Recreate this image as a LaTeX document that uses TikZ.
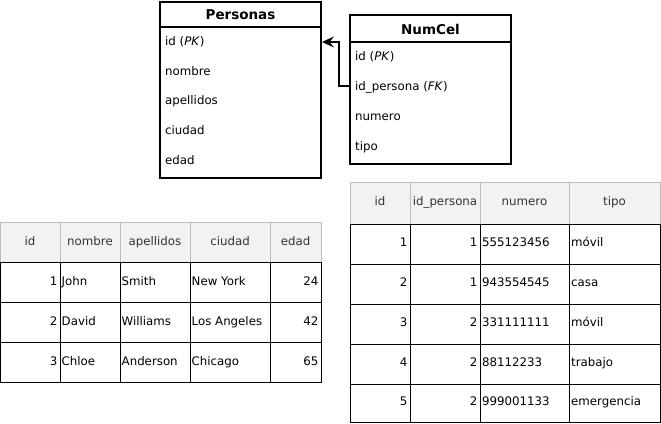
\documentclass[tikz,border=0pt]{standalone}
\usepackage{fontspec}
\setmainfont{DejaVu Sans}
\usetikzlibrary{arrows.meta}
\definecolor{hdrgray}{HTML}{F2F2F2}
\definecolor{hdrline}{HTML}{BDBDBD}
\definecolor{hdrtext}{HTML}{333333}
\tikzset{
  entity/.style={draw=black, line width=2pt, fill=white, inner sep=0pt},
  ttl/.style={inner sep=0pt, font=\fontsize{13.5}{15}\selectfont\bfseries},
  txt/.style={inner sep=0pt, text height=8.7pt, text depth=2.5pt, font=\fontsize{11.8}{13}\selectfont},
  field/.style={txt, anchor=west},
  hcell/.style={txt, text=hdrtext},
  lcell/.style={txt, anchor=west},
  rcell/.style={txt, anchor=east},
  grid/.style={draw=black, line width=0.9pt},
  hgrid/.style={draw=hdrline, line width=0.9pt},
  fk/.style={line width=2pt, -{Stealth[length=12pt, width=11pt, inset=4.5pt]}}
}
\begin{document}
\begin{tikzpicture}[x=1pt, y=-1pt]
		\useasboundingbox (0,0) rectangle (661,423);
		% entidad Personas
		\node [entity, minimum width=161pt, minimum height=176pt] (personas) at (240.5,90) {};
		\draw [line width=1.5pt] (160,27) -- (321,27);
		\node [ttl] (personas-t) at (240.5,15) {Personas};
		\node [field] (pers-id) at (165,42) {id (\textit{PK})};
		\node [field] (pers-nom) at (165,72) {nombre};
		\node [field] (pers-ape) at (165,101) {apellidos};
		\node [field] (pers-ciu) at (165,131) {ciudad};
		\node [field] (pers-eda) at (165,161) {edad};
		% entidad NumCel
		\node [entity, minimum width=161pt, minimum height=149pt] (numcel) at (430.5,89.5) {};
		\draw [line width=1.5pt] (350,42) -- (511,42);
		\node [ttl] (numcel-t) at (430.5,29) {NumCel};
		\node [field] (nc-id) at (355,57) {id (\textit{PK})};
		\node [field] (nc-idp) at (355,87) {id\_persona (\textit{FK})};
		\node [field] (nc-num) at (355,117) {numero};
		\node [field] (nc-tipo) at (355,147) {tipo};
		% relacion
		\draw [fk] (numcel.west |- 0,86) -- ++(-10,0) |- (personas.east |- 0,42);
		% tabla Personas
		\fill [hdrgray] (0.5,222) rectangle (321,262);
		\draw [hgrid] (0.5,222) rectangle (321,262);
		\draw [hgrid] (60,222) -- (60,262);
		\draw [hgrid] (120,222) -- (120,262);
		\draw [hgrid] (190,222) -- (190,262);
		\draw [hgrid] (270,222) -- (270,262);
		\draw [grid] (0.5,262) rectangle (321,382);
		\draw [grid] (0.5,302) -- (321,302);
		\draw [grid] (0.5,342) -- (321,342);
		\draw [grid] (60,262) -- (60,382);
		\draw [grid] (120,262) -- (120,382);
		\draw [grid] (190,262) -- (190,382);
		\draw [grid] (270,262) -- (270,382);
		\node [hcell] (tp-h1) at (30,242) {id};
		\node [hcell] (tp-h2) at (90,242) {nombre};
		\node [hcell] (tp-h3) at (155,242) {apellidos};
		\node [hcell] (tp-h4) at (230,242) {ciudad};
		\node [hcell] (tp-h5) at (295.5,242) {edad};
		\node [rcell] (tp-a1) at (57.5,282) {1};
		\node [lcell] (tp-a2) at (61.5,282) {John};
		\node [lcell] (tp-a3) at (121.5,282) {Smith};
		\node [lcell] (tp-a4) at (191.5,282) {New York};
		\node [rcell] (tp-a5) at (318.5,282) {24};
		\node [rcell] (tp-b1) at (57.5,322) {2};
		\node [lcell] (tp-b2) at (61.5,322) {David};
		\node [lcell] (tp-b3) at (121.5,322) {Williams};
		\node [lcell] (tp-b4) at (191.5,322) {Los Angeles};
		\node [rcell] (tp-b5) at (318.5,322) {42};
		\node [rcell] (tp-c1) at (57.5,362) {3};
		\node [lcell] (tp-c2) at (61.5,362) {Chloe};
		\node [lcell] (tp-c3) at (121.5,362) {Anderson};
		\node [lcell] (tp-c4) at (191.5,362) {Chicago};
		\node [rcell] (tp-c5) at (318.5,362) {65};
		% tabla NumCel
		\fill [hdrgray] (350,182) rectangle (660.5,224);
		\draw [hgrid] (350,182) rectangle (660.5,224);
		\draw [hgrid] (410,182) -- (410,224);
		\draw [hgrid] (480,182) -- (480,224);
		\draw [hgrid] (569,182) -- (569,224);
		\draw [grid] (350,224) rectangle (660.5,422.5);
		\draw [grid] (350,264) -- (660.5,264);
		\draw [grid] (350,304) -- (660.5,304);
		\draw [grid] (350,344) -- (660.5,344);
		\draw [grid] (350,384) -- (660.5,384);
		\draw [grid] (410,224) -- (410,422.5);
		\draw [grid] (480,224) -- (480,422.5);
		\draw [grid] (569,224) -- (569,422.5);
		\node [hcell] (tn-h1) at (380,202) {id};
		\node [hcell] (tn-h2) at (445,202) {id\_persona};
		\node [hcell] (tn-h3) at (524.5,202) {numero};
		\node [hcell] (tn-h4) at (614.5,202) {tipo};
		\node [rcell] (tn-a1) at (407.5,243) {1};
		\node [rcell] (tn-a2) at (477.5,243) {1};
		\node [lcell] (tn-a3) at (482,243) {555123456};
		\node [lcell] (tn-a4) at (571,243) {móvil};
		\node [rcell] (tn-b1) at (407.5,283) {2};
		\node [rcell] (tn-b2) at (477.5,283) {1};
		\node [lcell] (tn-b3) at (482,283) {943554545};
		\node [lcell] (tn-b4) at (571,283) {casa};
		\node [rcell] (tn-c1) at (407.5,323) {3};
		\node [rcell] (tn-c2) at (477.5,323) {2};
		\node [lcell] (tn-c3) at (482,323) {331111111};
		\node [lcell] (tn-c4) at (571,323) {móvil};
		\node [rcell] (tn-d1) at (407.5,363) {4};
		\node [rcell] (tn-d2) at (477.5,363) {2};
		\node [lcell] (tn-d3) at (482,363) {88112233};
		\node [lcell] (tn-d4) at (571,363) {trabajo};
		\node [rcell] (tn-e1) at (407.5,402) {5};
		\node [rcell] (tn-e2) at (477.5,402) {2};
		\node [lcell] (tn-e3) at (482,402) {999001133};
		\node [lcell] (tn-e4) at (571,402) {emergencia};
		\end{tikzpicture}
\end{document}
